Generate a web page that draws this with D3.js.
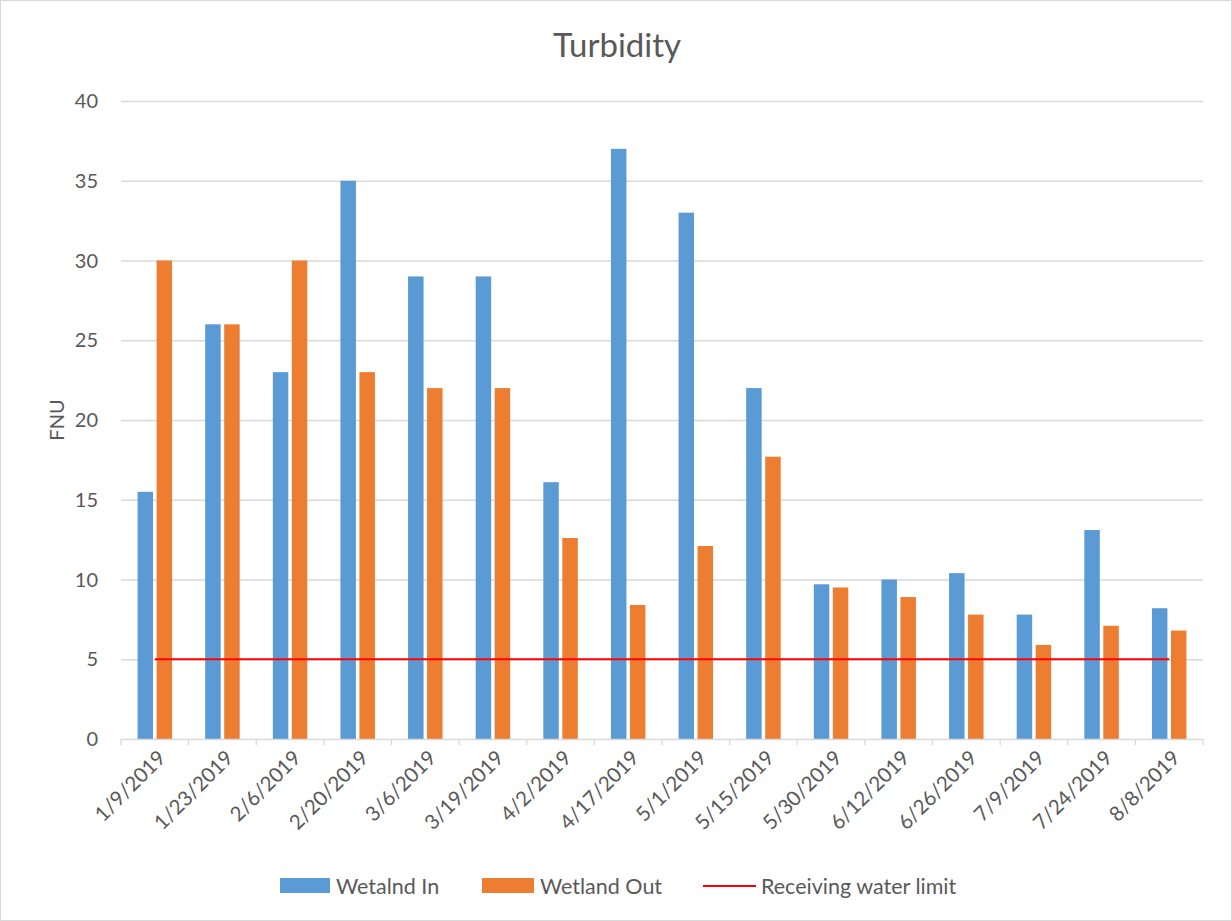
<!DOCTYPE html>
<html><head><meta charset="utf-8">
<script src="https://cdn.jsdelivr.net/npm/d3@7"></script>
<style>body{margin:0;background:#fff}svg{display:block}text{font-family:Lato,"Open Sans",sans-serif;fill:#595959}</style>
</head><body>
<script>
const categories = ["1/9/2019","1/23/2019","2/6/2019","2/20/2019","3/6/2019","3/19/2019","4/2/2019","4/17/2019","5/1/2019","5/15/2019","5/30/2019","6/12/2019","6/26/2019","7/9/2019","7/24/2019","8/8/2019"];
const wetlandIn  = [15.5,26,23,35,29,29,16.1,37,33,22,9.7,10,10.4,7.8,13.1,8.2];
const wetlandOut = [30,26,30,23,22,22,12.6,8.4,12.1,17.7,9.5,8.9,7.8,5.9,7.1,6.8];
const limit = categories.map(() => 5);
const yTicks = [0,5,10,15,20,25,30,35,40];
const seriesNames = ["Wetalnd In","Wetland Out","Receiving water limit"];
const colors = ["#5b9bd5","#ed7d31","#ff0000"];

const W = 1232, H = 921;
const svg = d3.select("body").append("svg").attr("width", W).attr("height", H);
svg.append("rect").attr("x",0.5).attr("y",0.5).attr("width",W-1).attr("height",H-1).attr("fill","#fff").attr("stroke","#d9d9d9");

const m = {left:121, right:1203, top:101, bottom:739};
const x = d3.scaleBand().domain(categories).range([m.left, m.right]);
const y = d3.scaleLinear().domain([0,40]).range([m.bottom, m.top]);
const bw = x.bandwidth()*0.229, gap = x.bandwidth()*0.052;

// gridlines
svg.append("g").selectAll("line").data(yTicks.filter(d=>d>0)).join("line")
  .attr("x1", m.left).attr("x2", m.right).attr("y1", d=>y(d)+0.5).attr("y2", d=>y(d)+0.5)
  .attr("stroke","#d9d9d9").attr("stroke-width",1.3);

// y labels
svg.append("g").selectAll("text").data(yTicks).join("text")
  .attr("x", 98).attr("y", d=>y(d)).attr("dy","0.36em").attr("text-anchor","end")
  .attr("font-size",20).text(d=>d);

// bars
const gIn = svg.append("g");
gIn.selectAll("rect").data(categories).join("rect")
  .attr("x", d=>x(d)+x.bandwidth()/2-gap/2-bw).attr("width", bw)
  .attr("y", (d,i)=>y(wetlandIn[i])).attr("height",(d,i)=>y(0)-y(wetlandIn[i]))
  .attr("fill",colors[0]);
const gOut = svg.append("g");
gOut.selectAll("rect").data(categories).join("rect")
  .attr("x", d=>x(d)+x.bandwidth()/2+gap/2).attr("width", bw)
  .attr("y", (d,i)=>y(wetlandOut[i])).attr("height",(d,i)=>y(0)-y(wetlandOut[i]))
  .attr("fill",colors[1]);

// x axis
const ax = svg.append("g").attr("transform",`translate(0,${m.bottom})`);
ax.append("line").attr("x1",m.left).attr("x2",m.right).attr("y1",0.5).attr("y2",0.5).attr("stroke","#d9d9d9").attr("stroke-width",1.3);
const tickPos = categories.map(c=>x(c)).concat([m.right]);
ax.selectAll("line.tk").data(tickPos).join("line").attr("class","tk")
  .attr("x1",d=>d).attr("x2",d=>d).attr("y1",0).attr("y2",6).attr("stroke","#d9d9d9").attr("stroke-width",1.3);
ax.selectAll("text").data(categories).join("text")
  .attr("transform", d=>`translate(${x(d)+x.bandwidth()/2+7},${15}) rotate(-45)`)
  .attr("text-anchor","end").attr("dy","0.35em").attr("font-size",20.5).text(d=>d);

// limit line
const line = d3.line().x(d=>x(d)+x.bandwidth()/2).y((d,i)=>y(limit[i]));
svg.append("path").datum(categories).attr("d", line).attr("fill","none").attr("stroke",colors[2]).attr("stroke-width",2.2);

// title
svg.append("text").attr("x",617).attr("y",57).attr("text-anchor","middle").attr("font-size",33).attr("font-weight",400).text("Turbidity");
// y label
svg.append("text").attr("transform","translate(64,420) rotate(-90)").attr("text-anchor","middle").attr("font-size",20).text("FNU");

// legend
const lg = svg.append("g");
lg.append("rect").attr("x",280).attr("y",878).attr("width",50).attr("height",15).attr("fill",colors[0]);
lg.append("text").attr("x",336).attr("y",886).attr("dy","0.36em").attr("font-size",21.5).text(seriesNames[0]);
lg.append("rect").attr("x",482).attr("y",878).attr("width",52).attr("height",15).attr("fill",colors[1]);
lg.append("text").attr("x",540).attr("y",886).attr("dy","0.36em").attr("font-size",21.5).text(seriesNames[1]);
lg.append("line").attr("x1",703).attr("x2",756).attr("y1",886).attr("y2",886).attr("stroke",colors[2]).attr("stroke-width",2.2);
lg.append("text").attr("x",761).attr("y",886).attr("dy","0.36em").attr("font-size",21.5).text(seriesNames[2]);
</script>
</body></html>
